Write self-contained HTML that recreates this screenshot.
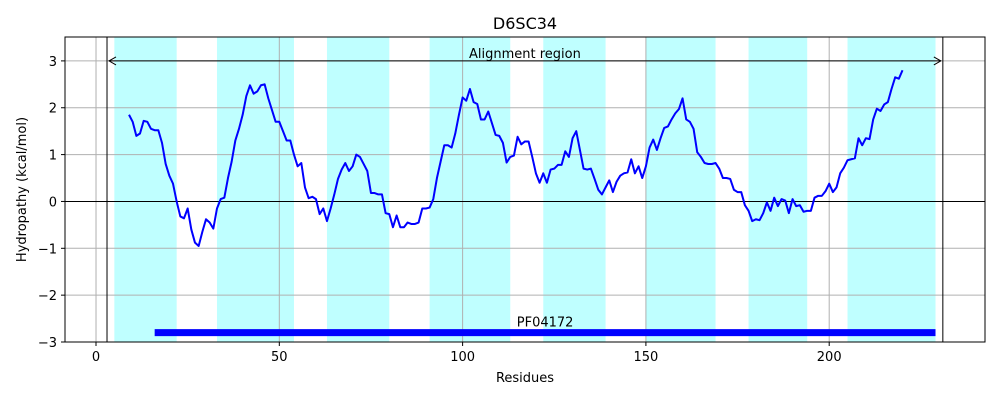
<!DOCTYPE html>
<html><head><meta charset="utf-8"><style>
body{margin:0;background:#fff;}
svg{display:block;font-family:"DejaVu Sans","Liberation Sans",sans-serif;}
</style></head><body>
<svg id="chart" width="1000" height="400" viewBox="0 0 1000 400" xmlns="http://www.w3.org/2000/svg">
<rect width="1000" height="400" fill="#fff"/>
<g id="bands"></g><g id="grid"></g><g id="marks"></g><g id="axes"></g>
</svg>
<script>
const startResidue = 9;
const hydropathy = [1.85,1.7,1.4,1.45,1.72,1.7,1.55,1.52,1.52,1.25,0.8,0.55,0.38,0.0,-0.32,-0.36,-0.15,-0.6,-0.88,-0.95,-0.65,-0.38,-0.45,-0.58,-0.15,0.05,0.08,0.5,0.85,1.3,1.55,1.85,2.25,2.48,2.3,2.35,2.48,2.5,2.2,1.95,1.7,1.7,1.5,1.3,1.3,1.0,0.75,0.82,0.3,0.07,0.1,0.05,-0.27,-0.15,-0.42,-0.15,0.15,0.48,0.68,0.82,0.65,0.75,1.0,0.95,0.8,0.65,0.18,0.18,0.15,0.15,-0.25,-0.27,-0.55,-0.3,-0.55,-0.55,-0.45,-0.48,-0.48,-0.45,-0.15,-0.15,-0.13,0.05,0.5,0.85,1.2,1.2,1.15,1.45,1.85,2.22,2.15,2.4,2.12,2.08,1.75,1.75,1.92,1.67,1.42,1.4,1.25,0.83,0.95,0.98,1.38,1.22,1.28,1.28,0.95,0.6,0.4,0.6,0.4,0.68,0.7,0.78,0.78,1.07,0.95,1.35,1.5,1.1,0.7,0.68,0.7,0.48,0.25,0.15,0.3,0.45,0.2,0.42,0.55,0.6,0.62,0.9,0.6,0.75,0.5,0.75,1.15,1.32,1.1,1.35,1.57,1.6,1.75,1.88,1.97,2.2,1.75,1.7,1.55,1.05,0.95,0.82,0.8,0.8,0.82,0.7,0.5,0.5,0.48,0.25,0.2,0.2,-0.08,-0.2,-0.42,-0.38,-0.4,-0.25,-0.02,-0.2,0.08,-0.1,0.05,0.02,-0.25,0.05,-0.1,-0.08,-0.22,-0.2,-0.2,0.08,0.12,0.12,0.22,0.38,0.2,0.3,0.6,0.72,0.88,0.9,0.92,1.35,1.2,1.35,1.33,1.75,1.98,1.93,2.07,2.12,2.4,2.65,2.62,2.8];
const bandStarts = [5,33,63,91,122,150,178,205];
const bandEnds = [22,54,80,113,139,169,194,229];
const xTicks = [0,50,100,150,200];
const yTicks = [-3,-2,-1,0,1,2,3];
const alignStart = 3, alignEnd = 231;
const domainStart = 16, domainEnd = 229;

const L=65,R=985,T=37,B=342;
const xMin=-8.46,xMax=242.5,yMin=-3,yMax=3.51;
const X=v=>L+(v-xMin)/(xMax-xMin)*(R-L);
const Y=v=>B-(v-yMin)/(yMax-yMin)*(B-T);
const NS="http://www.w3.org/2000/svg";
function mk(tag,attrs,parent,text){const e=document.createElementNS(NS,tag);for(const k in attrs)e.setAttribute(k,attrs[k]);if(text!==undefined)e.textContent=text;parent.appendChild(e);return e;}
const bands=document.getElementById('bands'),grid=document.getElementById('grid'),marks=document.getElementById('marks'),axes=document.getElementById('axes');

bandStarts.forEach((s,i)=>{
  const r=mk('rect',{x:X(s),y:T,width:X(bandEnds[i])-X(s),height:B-T,fill:'#bfffff'},bands);
  
  
});
xTicks.forEach(t=>{
  const l=mk('line',{x1:X(t),x2:X(t),y1:T,y2:B,stroke:'#b0b0b0','stroke-width':1},grid);
  
  
  const tk=mk('line',{x1:X(t),x2:X(t),y1:B,y2:B+4,stroke:'#000'},axes);
  
  
  const tx=mk('text',{x:X(t),y:B+19,'font-size':13,'text-anchor':'middle'},axes,String(t));
  
  
});
yTicks.forEach(t=>{
  const l=mk('line',{x1:L,x2:R,y1:Y(t),y2:Y(t),stroke:'#b0b0b0','stroke-width':1},grid);
  
  
  const tk=mk('line',{x1:L-4,x2:L,y1:Y(t),y2:Y(t),stroke:'#000'},axes);
  
  
  const tx=mk('text',{x:L-8,y:Y(t)+5,'font-size':13,'text-anchor':'end'},axes,(t<0?'\u2212'+(-t):String(t)));
  
  
});
const zl=mk('line',{x1:L,x2:R,y1:Y(0),y2:Y(0),stroke:'#000','stroke-width':1},marks);


[alignStart,alignEnd].forEach(v=>{
  const l=mk('line',{x1:X(v),x2:X(v),y1:T,y2:B,stroke:'#000','stroke-width':1},marks);
  
  
});
const ar=mk('line',{x1:X(alignStart)+2,x2:X(alignEnd)-2,y1:Y(3),y2:Y(3),stroke:'#000','stroke-width':1},marks);


const ah=mk('path',{d:`M${X(alignStart)+9},${Y(3)-4} L${X(alignStart)+2},${Y(3)} L${X(alignStart)+9},${Y(3)+4} M${X(alignEnd)-9},${Y(3)-4} L${X(alignEnd)-2},${Y(3)} L${X(alignEnd)-9},${Y(3)+4}`,fill:'none',stroke:'#000'},marks);


const at=mk('text',{x:(X(alignStart)+X(alignEnd))/2,y:Y(3)-3,'font-size':13,'text-anchor':'middle'},marks,'Alignment region');


const db=mk('rect',{x:X(domainStart),y:Y(-2.8)-3.5,width:X(domainEnd)-X(domainStart),height:7,fill:'#0000ff'},marks);


const dt=mk('text',{x:(X(domainStart)+X(domainEnd))/2,y:Y(-2.8)-6,'font-size':13,'text-anchor':'middle'},marks,'PF04172');


const pts=hydropathy.map((v,i)=>X(startResidue+i).toFixed(2)+','+Y(v).toFixed(2)).join(' ');
const pl=mk('polyline',{points:pts,fill:'none',stroke:'#0000ff','stroke-width':2,'stroke-linejoin':'round'},marks);


const fr=mk('rect',{x:L,y:T,width:R-L,height:B-T,fill:'none',stroke:'#000','stroke-width':1},axes);


const ti=mk('text',{x:(L+R)/2,y:29,'font-size':16,'text-anchor':'middle'},axes,'D6SC34');


const xl=mk('text',{x:(L+R)/2,y:382,'font-size':13,'text-anchor':'middle'},axes,'Residues');


const yl=mk('text',{x:26,y:(T+B)/2,'font-size':13,'text-anchor':'middle',transform:`rotate(-90 26 ${(T+B)/2})`},axes,'Hydropathy (kcal/mol)');


</script>
</body></html>
